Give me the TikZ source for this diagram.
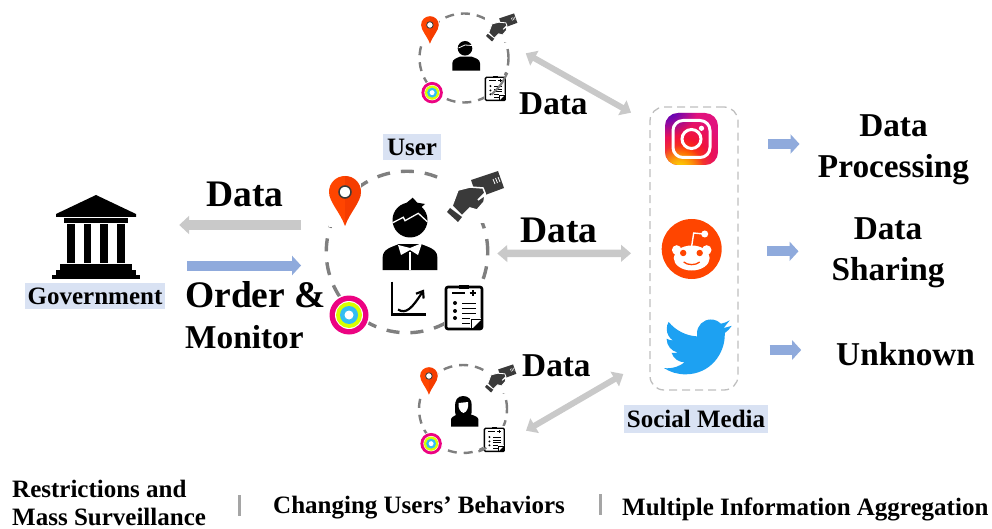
\documentclass[tikz,border=0pt]{standalone}
\usepackage{fontspec}
\setmainfont{Liberation Serif}
\usepackage{tikz}
\usetikzlibrary{arrows.meta}
\usetikzlibrary{fadings}
\definecolor{arrowGray}{HTML}{C9C9C9}
\definecolor{arrowBlue}{HTML}{8FAADC}
\definecolor{tagBlue}{HTML}{D9E2F3}
\definecolor{ringGray}{HTML}{7F7F7F}
\definecolor{boxGray}{HTML}{BFBFBF}
\definecolor{pinRed}{HTML}{FF4500}
\definecolor{handDark}{HTML}{3A3A3A}
\definecolor{birdBlue}{HTML}{1DA1F2}
\tikzfading[name=glowFade, inner color=transparent!0, outer color=transparent!100]
\tikzset{
	userRing/.style={circle,draw=ringGray,dash pattern=on 13pt off 11pt,inner sep=0pt},
	smBoxStyle/.style={draw=boxGray,line width=1.3pt,dash pattern=on 8pt off 5pt,rounded corners=14pt,minimum width=88pt,minimum height=283pt,inner sep=0pt},
	iconSpot/.style={inner sep=0pt,minimum size=#1},
	bigLabel/.style={font=\bfseries\fontsize{37.5}{41}\selectfont,inner sep=0pt,anchor=base west},
	midLabel/.style={font=\bfseries\fontsize{33.3}{41}\selectfont,inner sep=0pt},
	smallLabel/.style={font=\bfseries\fontsize{25}{30}\selectfont,inner sep=0pt,anchor=base west},
	tagLabel/.style={font=\bfseries\fontsize{25}{29}\selectfont,fill=tagBlue,inner sep=0pt},
	grayArrow/.style={arrowGray,line width=9.5pt,-{Triangle[length=10pt,width=18pt]}},
	grayBoth/.style={arrowGray,line width=#1,{Triangle[length=10pt,width=16.5pt]}-{Triangle[length=10pt,width=16.5pt]}},
	blueArrow/.style={arrowBlue,line width=10pt,-{Triangle[length=9pt,width=19pt]}},
	divider/.style={draw=ringGray!70,line width=3pt},
	pics/pinIcon/.style={code={
		\fill[white] (-16,-17) rectangle (16,35);
		\fill[pinRed] (0,34) .. controls (-5,20) and (-16,10) .. (-16,0) .. controls (-16,-9) and (-9,-16) .. (0,-16) .. controls (9,-16) and (16,-9) .. (16,0) .. controls (16,10) and (5,20) .. (0,34) -- cycle;
		\fill[red!60!orange!90!black,opacity=.35] (0,34) .. controls (5,20) and (16,10) .. (16,0) .. controls (16,-9) and (9,-16) .. (0,-16) -- cycle;
		\draw[fill=white,draw=handDark,line width=#1*1.5pt] (0,0) circle (6);
	}},
	pics/cardIcon/.style={code={
		\fill[white] (-29,-27) rectangle (30,26);
		\fill[handDark] (-4,-17) -- (23,-26) -- (29,-9) -- (2,1) -- cycle;
		\draw[white,line width=#1*.8pt] (18,-18) -- (20,-13) (20.5,-19) -- (22.5,-14) (23,-20) -- (25,-15);
		\fill[handDark,draw=white,line width=#1*1.5pt] (-23,9) -- (-17,-7) -- (-5,-10) -- (8,-9) -- (10,-4) -- (3,3) -- (10,-2) -- (9,5) -- (2,13) -- (-5,11) -- (-13,19) -- cycle;
		\fill[handDark] (-28,15) -- (-25,11) -- (-13,20) -- (-17,25) -- cycle;
	}},
	pics/ringsIcon/.style={code={
		\fill[white] (0,0) circle (21);
		\fill[magenta!90!red] (0,0) circle (19.5);
		\fill[white] (0,0) circle (14);
		\fill[lime!60!yellow] (0,0) circle (13);
		\fill[cyan!80!white] (0,0) circle (9);
		\fill[white] (0,0) circle (4.5);
	}},
	pics/docIcon/.style={code={
		\fill[white] (-20,-24) rectangle (20,24);
		\draw[black,line width=#1*2.6pt,rounded corners=#1*2pt] (-18,-20) rectangle (18,22);
		\fill (-5,-22) rectangle (5,-18);
		\draw[line width=#1*2pt] (-12,-13.7) -- (1,-13.7) (8.7,-16.7) -- (8.7,-10.7) (5.7,-13.7) -- (11.7,-13.7);
		\foreach \rowY in {-4,4,11}{
			\fill (-9,\rowY) circle (2);
		}
		\foreach \rowY in {-3.6,1.3,6.3,11.3,16.3}{
			\draw[line width=#1*.9pt] (-2,\rowY) -- (12,\rowY);
		}
		\fill[white] (6,21) -- (6,11) -- (17,11) -- (17,21) -- cycle;
		\fill (8,22) -- (18,12) -- (18,22) -- cycle;
		\draw[line width=#1*.8pt] (7,21) -- (7,12) -- (17,12);
	}},
	pics/chartIcon/.style={code={
		\draw[line width=2.2pt] (-17,-17) -- (-17,16) -- (17,16);
		\draw[line width=2.2pt,-{Straight Barb[length=6pt,width=9pt]}] (-11,11) .. controls (-3,16) and (3,10) .. (15,-9);
	}},
	pics/userIcons/.style={code={
		\pic[scale=#1] at (-62*#1,-60*#1) {pinIcon=#1};
		\pic[scale=#1] at (68*#1,-55*#1) {cardIcon=#1};
		\pic[scale=#1] at (-58*#1,63*#1) {ringsIcon};
		\pic[scale=#1] at (57*#1,55*#1) {docIcon=#1};
	}},
	pics/maleBig/.style={code={
		\fill (3,-32) circle (17.5);
		\fill (-3,-47) -- (5.7,-54.3) -- (10.3,-49.3) -- (18,-48) -- (13,-43.7) -- (12,-36) -- cycle;
		\draw[white,line width=1.3pt] (-14.3,-29.3) -- (-3.7,-34.7) -- (-2,-31.3) -- (11.3,-38.7) -- (20.3,-30.3);
		\fill (-24.3,18) -- (-24.3,5) .. controls (-24.3,-3) and (-15,-5) .. (-8,-8) -- (14,-8) .. controls (21,-5) and (30.3,-3) .. (30.3,5) -- (30.3,18) -- cycle;
		\fill[white] (-9,-7) -- (3,-4) -- (15,-9) -- (11,3) -- (3,-2) -- (-6,3) -- cycle;
		\draw[white,line width=1.2pt] (3,0) -- (3,18);
	}},
	pics/maleSmall/.style={code={
		\fill (1,-9.7) circle (7.3);
		\draw[white,line width=.8pt] (-5.5,-10) -- (1,-13) -- (8,-12.5);
		\fill (-11.7,12.7) -- (-11.7,5.3) .. controls (-11.7,1) and (-7,0) .. (-4,-1.3) -- (7.7,-1.3) .. controls (11,0) and (16,1) .. (16,5.3) -- (16,12.7) -- cycle;
	}},
	pics/femaleSmall/.style={code={
		\fill (0,-13) .. controls (-6,-13) and (-8,-8) .. (-8,-3) .. controls (-8,2) and (-8,5) .. (-7,6) -- (8,6) .. controls (9,3) and (8.7,-1) .. (8.7,-4) .. controls (8.7,-9) and (6,-13) .. (0,-13) -- cycle;
		\fill[white] (-4.5,-6) .. controls (-1,-6) and (2,-7) .. (5,-7) .. controls (6,-2) and (4,3) .. (0.5,4) .. controls (-3,3) and (-5,-1) .. (-4.5,-6) -- cycle;
		\fill (-12,17.7) -- (-12,10) .. controls (-11,7) and (-6,6) .. (-3,4.3) -- (5.3,4.3) .. controls (8,6) and (15,7) .. (15.3,10) -- (15.3,17.7) -- cycle;
	}},
	pics/govIcon/.style={code={
		\fill (96,195) -- (136,214) -- (136,217) -- (56,217) -- (56,214) -- cycle;
		\fill (64,218.5) rectangle (128,223);
		\foreach \colX in {67.3,83.5,100,117.3}{
			\fill (\colX,224.5) rectangle (\colX+7.8,262.5);
		}
		\fill (60,264) rectangle (132,270);
		\fill (56,269.5) rectangle (136,275);
		\fill (52.3,274.5) rectangle (140,279);
	}},
	pics/instaIcon/.style={code={
		\begin{scope}
			\clip[rounded corners=13pt] (-26.5,-26) rectangle (26.5,26);
			\fill[magenta!75!purple] (-27,-27) rectangle (27,27);
			\fill[red!85!orange,path fading=glowFade] (-5,14) circle (36);
			\fill[orange!90!yellow,path fading=glowFade] (-12,34) circle (36);
			\fill[yellow!80!orange,path fading=glowFade] (-12,30) circle (24);
			\fill[blue!60!violet,path fading=glowFade] (-24,-32) circle (30);
		\end{scope}
		\draw[white,line width=3pt,rounded corners=10pt] (-18.5,-18.5) rectangle (18.5,18.5);
		\draw[white,line width=3pt] (0,0) circle (9.5);
		\fill[white] (10,-10.7) circle (2.6);
	}},
	pics/redditIcon/.style={code={
		\fill[pinRed] (0,0) circle (30);
		\draw[white,line width=1.4pt] (0,-3) -- (2,-16) -- (12,-15);
		\fill[white] (13,-15) circle (3.5);
		\fill[white] (-15,1) circle (4.8) (15,1) circle (4.8);
		\fill[white] (0,9) ellipse (18 and 12.5);
		\fill[pinRed] (-8.5,4) circle (3.2) (8,4) circle (3.2);
		\draw[pinRed,line width=1.3pt] (-8,13) .. controls (-4,16.5) and (4,16.5) .. (8,13);
	}},
	pics/birdIcon/.style={code={
		\fill[birdBlue] (23.95,4.57) -- (21.13,5.35) -- (23.29,2.62) .. controls (22.34,3.18) and (21.29,3.58) .. (20.16,3.81) .. controls (19.2,2.8) and (17.9,2.3) .. (16.6,2.3) .. controls (13.9,2.3) and (11.7,4.5) .. (11.7,7.2) .. controls (11.7,7.6) and (11.74,7.95) .. (11.78,8.29) .. controls (7.69,8.095) and (4.067,6.13) .. (1.64,3.16) .. controls (1.22,3.88) and (0.974,4.73) .. (0.974,5.64) .. controls (0.974,7.35) and (1.84,8.85) .. (3.16,9.73) .. controls (2.35,9.70) and (1.59,9.48) .. (0.93,9.12) -- (0.93,9.18) .. controls (0.93,11.56) and (2.62,13.55) .. (4.88,14.0) .. controls (4.17,14.19) and (3.41,14.22) .. (2.66,14.09) .. controls (3.3,16.06) and (5.12,17.46) .. (7.27,17.5) .. controls (5.59,18.82) and (3.47,19.61) .. (1.17,19.61) .. controls (0.78,19.61) and (0.39,19.59) .. (0,19.54) .. controls (2.18,20.94) and (4.77,21.75) .. (7.56,21.75) .. controls (16.61,21.75) and (21.55,14.25) .. (21.55,7.76) .. controls (21.55,7.55) and (21.55,7.34) .. (21.54,7.13) .. controls (22.5,6.44) and (23.33,5.58) .. (24,4.59) -- cycle;
	}},
}
\begin{document}
\begin{tikzpicture}[x=1pt,y=-1pt]
	\useasboundingbox (0,0) rectangle (992,529);
	% government
	\node[iconSpot=88pt] (govSpot) at (96,237) {};
	\pic at (0,0) {govIcon};
	\node[tagLabel,minimum width=140pt,minimum height=26pt] (govTag) at (95,296) {Government};
	% user groups
	\node[userRing,minimum size=161.5pt,line width=3.4pt] (userMain) at (407,252) {};
	\node[userRing,minimum size=89pt,line width=2.4pt,dash pattern=on 9pt off 7pt] (userTop) at (464,58) {};
	\node[userRing,minimum size=88pt,line width=2.4pt,dash pattern=on 9pt off 7pt] (userLow) at (463,409) {};
	\pic at (userMain) {userIcons=1};
	\pic at (userTop) {userIcons=.55};
	\pic at (userLow) {userIcons=.55};
	\draw[ringGray,line width=2.2pt] (userTop.-19) to[bend left=12] (userTop.-53);
	\draw[ringGray,line width=2.2pt] (userLow.-59) to[bend left=8] (userLow.-70);
	\pic at (userMain) {maleBig};
	\pic at (409,298.5) {chartIcon};
	\pic at (userTop) {maleSmall};
	\pic at (userLow) {femaleSmall};
	\node[tagLabel,minimum width=58pt,minimum height=26pt] (userTag) at (412,147) {User};
	% social media
	\node[smBoxStyle] (smBox) at (694,248.5) {};
	\node[iconSpot=53pt] (igSpot) at (691.5,139) {};
	\node[iconSpot=60pt] (rdSpot) at (691.7,249) {};
	\node[iconSpot=60pt] (twSpot) at (698,346) {};
	\pic at (igSpot) {instaIcon};
	\pic at (rdSpot) {redditIcon};
	\pic[scale=2.82] at (664,313) {birdIcon};
	\node[tagLabel,minimum width=144pt,minimum height=28pt] (smTag) at (696,419) {Social Media};
	% arrows
	\draw[grayArrow] ([xshift=-23.5pt,yshift=27pt]userMain.west) -- ([xshift=39pt,yshift=12pt]govSpot.east);
	\draw[blueArrow] ([xshift=47pt,yshift=-28.5pt]govSpot.east) -- ([xshift=-23.5pt,yshift=-13.5pt]userMain.west);
	\draw[grayBoth=7.5pt] ([xshift=7.8pt,yshift=-1.5pt]userMain.east) -- ([xshift=-18.3pt,yshift=-4.8pt]smBox.west);
	\draw[grayBoth=6pt] ([xshift=61.7pt,yshift=4.7pt]userTop.center) -- ([xshift=-18.3pt,yshift=135.8pt]smBox.west);
	\draw[grayBoth=6pt] ([xshift=63pt,yshift=-21.7pt]userLow.center) -- ([xshift=-26pt,yshift=-125.5pt]smBox.west);
	\draw[blueArrow] ([xshift=49.7pt,yshift=-5pt]igSpot.east) -- ([xshift=81.3pt,yshift=-5pt]igSpot.east);
	\draw[blueArrow] ([xshift=45pt,yshift=-2.3pt]rdSpot.east) -- ([xshift=76.6pt,yshift=-2.3pt]rdSpot.east);
	\draw[blueArrow] ([xshift=41.3pt,yshift=-4pt]twSpot.east) -- ([xshift=73pt,yshift=-4pt]twSpot.east);
	% labels
	\node[bigLabel] (dataGov) at (206,207) {Data};
	\node[bigLabel] (orderLbl) at (185,307) {Order \&};
	\node[midLabel,anchor=base west] (monitorLbl) at (185,348) {Monitor};
	\node[bigLabel] (dataMid) at (520,242) {Data};
	\node[midLabel,anchor=base west] (dataTop) at (519,115) {Data};
	\node[midLabel,anchor=base west] (dataLow) at (522,376) {Data};
	\node[midLabel,align=center] (procLbl) at (893.5,150) {Data\\Processing};
	\node[midLabel,align=center] (shareLbl) at (888,253) {Data\\Sharing};
	\node[midLabel,anchor=base west] (unknownLbl) at (836,365) {Unknown};
	\node[smallLabel] (restrictLbl) at (12,497.5) {Restrictions and};
	\node[smallLabel] (massLbl) at (12,525.5) {Mass Surveillance};
	\node[smallLabel] (behaveLbl) at (273,513) {Changing Users’ Behaviors};
	\node[smallLabel] (aggrLbl) at (622,515) {Multiple Information Aggregation};
	\coordinate (divA) at (239.3,495);
	\coordinate (divB) at (600,494);
	\draw[divider] (divA) -- ++(0,21);
	\draw[divider] (divB) -- ++(0,21);
\end{tikzpicture}
\end{document}
